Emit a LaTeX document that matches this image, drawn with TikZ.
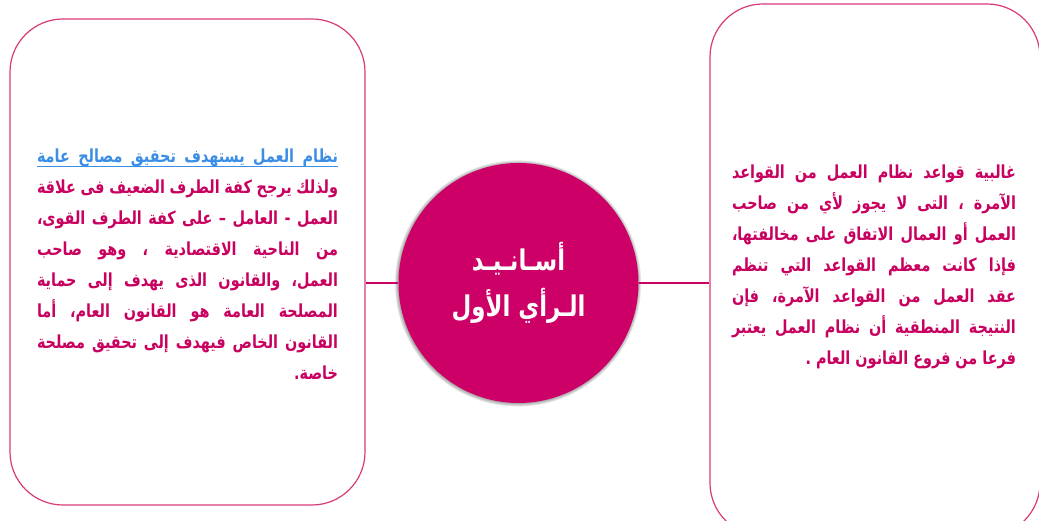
\documentclass[tikz,border=0pt]{standalone}
\usepackage{fontspec}
\newfontfamily\arabicfont[Script=Arabic,FakeStretch=0.8]{DejaVu Sans}
\TeXXeTstate=1
\definecolor{mag}{HTML}{CC0066}
\definecolor{txt}{HTML}{C8005F}
\definecolor{brd}{HTML}{D93A78}
\definecolor{lnk}{HTML}{3A8EE6}
\newdimen\LW
\newcommand\setsp{\spaceskip=\fontdimen2\font plus 1fill minus 0.6\fontdimen2\font}
\newcommand\lineJ[1]{\hbox to\LW{\setsp\beginR #1\endR}}
\newcommand\lineL[1]{\hbox to\LW{\hfill\beginR #1\endR}}
\newcommand\lineU[1]{\hbox to\LW{\color{lnk}\rlap{\smash{\rule[-5pt]{\LW}{1pt}}}\setsp\beginR #1\endR}}
\tikzset{
  panel/.style={draw=brd, line width=1.2pt, rounded corners=53pt, inner sep=0pt},
  bodytext/.style={text=txt, inner sep=0pt, font=\arabicfont\bfseries\fontsize{18}{31}\selectfont},
  hub/.style={circle, fill=mag, minimum size=240pt, inner sep=0pt, text=white, align=center,
    font=\arabicfont\bfseries\fontsize{28.5}{46}\selectfont},
  link/.style={draw=mag, line width=1.4pt}
}
\begin{document}
\begin{tikzpicture}[x=1pt,y=1pt]
\useasboundingbox (0,0) rectangle (1039,521);
\clip (0,0) rectangle (1039,521);
\fill[white] (0,0) rectangle (1039,521);
% panels
\node[panel, minimum width=355pt, minimum height=486pt] (L) at (187.5,259) {};
\node[panel, minimum width=330pt, minimum height=532pt] (R) at (875,251) {};
% shadow of hub
\foreach \i in {1,...,4}{
  \fill[black, opacity=0.09] (518,237.5) circle ({119.5+\i*0.9});
}
\node[hub] (C) at (518.5,238) {\beginR أسـانـيـد\endR\\\beginR الـرأي الأول\endR};
% connectors
\draw[link] (C.west) -- (C.west -| L.east);
\draw[link] (C.east) -- (C.east -| R.west);
% texts
\node[bodytext] (Lt) at (187.5,257) {\LW=301pt\vbox{%
\lineU{نظام العمل يستهدف تحقيق مصالح عامة}
\lineJ{ولذلك يرجح كفة الطرف الضعيف فى علاقة}
\lineJ{العمل - العامل – على كفة الطرف القوى،}
\lineJ{من الناحية الاقتصادية ، وهو صاحب}
\lineJ{العمل، والقانون الذى يهدف إلى حماية}
\lineJ{المصلحة العامة هو القانون العام، أما}
\lineJ{القانون الخاص فيهدف إلى تحقيق مصلحة}
\lineL{خاصة.}}};
\node[bodytext] (Rt) at (874,254) {\LW=284pt\vbox{%
\lineJ{غالبية قواعد نظام العمل من القواعد}
\lineJ{الآمرة ، التى لا يجوز لأي من صاحب}
\lineJ{العمل أو العمال الاتفاق على مخالفتها،}
\lineJ{فإذا كانت معظم القواعد التي تنظم}
\lineJ{عقد العمل من القواعد الآمرة، فإن}
\lineJ{النتيجة المنطقية أن نظام العمل يعتبر}
\lineL{فرعا من فروع القانون العام .}}};
\end{tikzpicture}
\end{document}
